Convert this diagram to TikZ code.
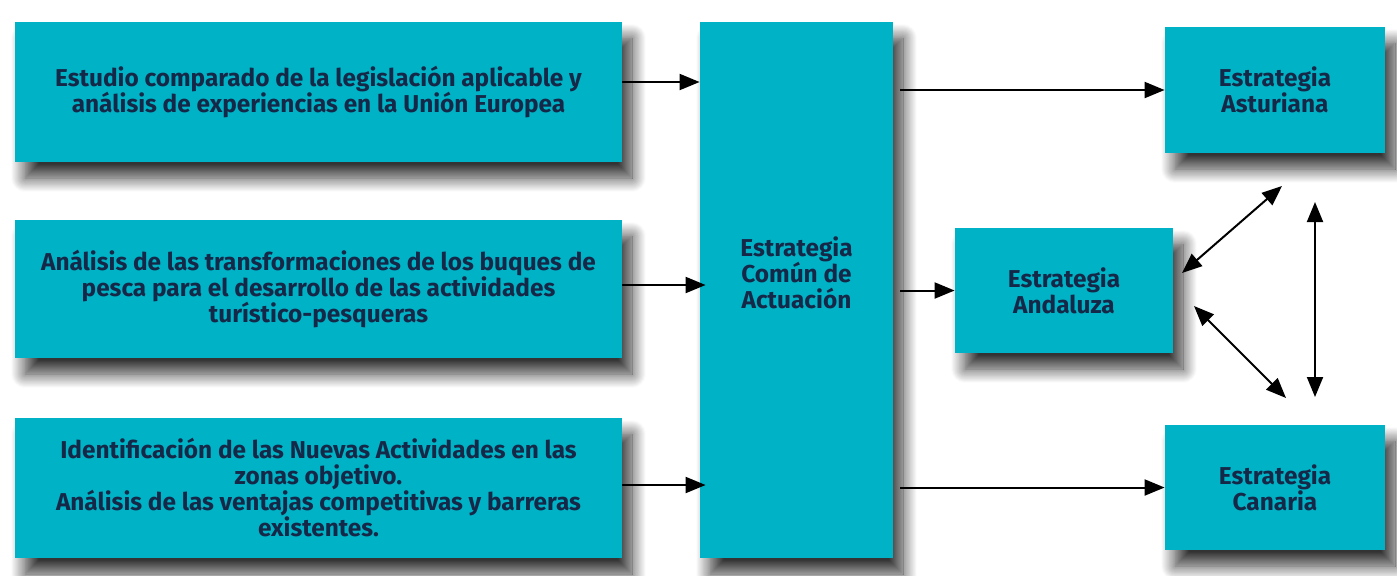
\documentclass[tikz,border=0pt]{standalone}
\usepackage{fontspec}
\setmainfont{Fira Sans}
\usetikzlibrary{shadows.blur,arrows.meta,calc}
\definecolor{boxfill}{RGB}{0,178,197}
\definecolor{boxtext}{RGB}{22,40,72}
\tikzset{
  boxfont/.style={font=\bfseries\fontsize{12.2}{13}\selectfont},
  box/.style={rectangle, fill=boxfill, inner sep=0pt, align=center,
    text=boxtext, boxfont,
    blur shadow={shadow xshift=5pt, shadow yshift=-8pt, shadow blur radius=7pt,
      shadow blur steps=16, shadow opacity=80}},
  conn/.style={line width=1pt, -{Triangle[length=10pt,width=8pt]}},
  dconn/.style={line width=1pt, {Triangle[length=10pt,width=8pt]}-{Triangle[length=10pt,width=8pt]}}
}
\begin{document}
\begin{tikzpicture}[x=0.5pt,y=-0.5pt]
\useasboundingbox (0,0) rectangle (1397,575);
\node[box, minimum width=303.5pt, minimum height=70pt] (b1) at (318.5,92)
  {Estudio comparado de la legislación aplicable y\\análisis de experiencias en la Unión Europea};
\node[box, minimum width=303.5pt, minimum height=69pt] (b2) at (318.5,289)
  {Análisis de las transformaciones de los buques de\\pesca para el desarrollo de las actividades\\turístico-pesqueras};
\node[box, minimum width=303.5pt, minimum height=70pt] (b3) at (318.5,488)
  {Identificación de las Nuevas Actividades en las\\zonas objetivo.\\Análisis de las ventajas competitivas y barreras\\existentes.};
\node[box, minimum width=96.5pt, minimum height=268pt,
  label={[yshift=8.5pt, align=center, text=boxtext, boxfont]center:Estrategia\\Común de\\Actuación}] (c) at (796.5,290) {};
\node[box, minimum width=110pt, minimum height=63pt] (ast) at (1275,90) {Estrategia\\Asturiana};
\node[box, minimum width=109pt, minimum height=62.5pt] (and) at (1064,290.5) {Estrategia\\Andaluza};
\node[box, minimum width=110pt, minimum height=62.5pt] (can) at (1275,487.5) {Estrategia\\Canaria};

\draw[conn] ([yshift=5pt]b1.east) -- ([yshift=5pt]c.west |- b1.east);
\draw[conn] ([yshift=2pt]b2.east) -- ([yshift=2pt,xshift=3pt]c.west |- b2.east);
\draw[conn] ([yshift=1.5pt]b3.east) -- ([yshift=1.5pt,xshift=3pt]c.west |- b3.east);
\draw[conn] ([xshift=3.5pt]c.east |- ast.west) -- (ast.west);
\draw[conn] ([xshift=3.5pt]c.east |- and.west) -- (and.west);
\draw[conn] ([xshift=3.5pt]c.east |- can.west) -- (can.west);

\coordinate (p1) at (1182,273);
\coordinate (p2) at (1282,186);
\coordinate (q1) at (1194,306);
\coordinate (q2) at (1286,398);
\coordinate (r1) at (1315,202);
\coordinate (r2) at (1315,397);
\draw[dconn] (p1) -- (p2);
\draw[dconn] (q1) -- (q2);
\draw[dconn] (r1) -- (r2);
\end{tikzpicture}
\end{document}
